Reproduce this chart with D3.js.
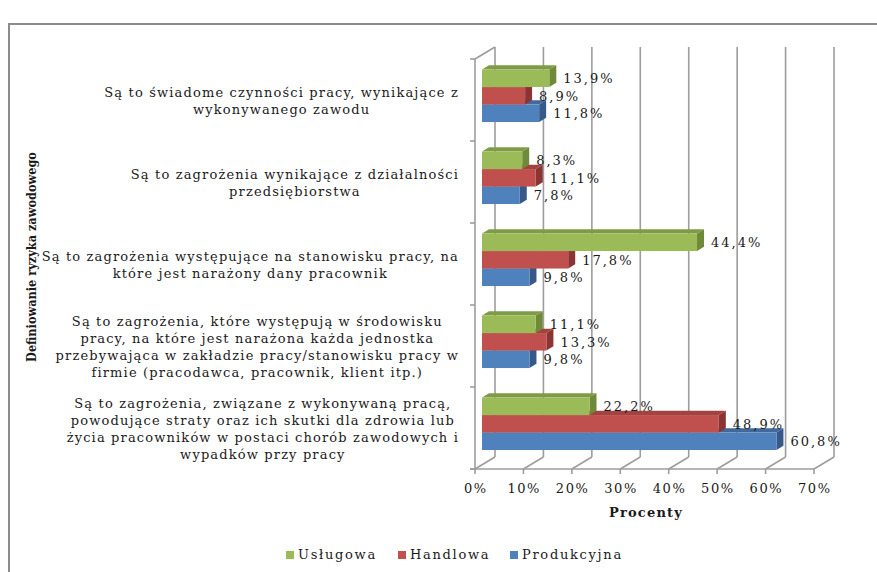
<!DOCTYPE html>
<html>
<head>
<meta charset="utf-8">
<script src="https://cdn.jsdelivr.net/npm/d3@7"></script>
<style>
  html, body { margin: 0; padding: 0; background: #fff; }
  svg { display: block; }
  text { font-family: "DejaVu Serif", serif; fill: #1a1a1a; }
</style>
</head>
<body>
<svg id="chart" width="877" height="572"></svg>
<script>
// Categories (top to bottom) – each entry is a list of wrapped lines
const categories = [
  ["Są to świadome czynności pracy, wynikające z", "wykonywanego zawodu"],
  ["Są to zagrożenia wynikające z działalności", "przedsiębiorstwa"],
  ["Są to zagrożenia występujące na stanowisku pracy, na", "które jest narażony dany pracownik"],
  ["Są to zagrożenia, które występują w środowisku", "pracy, na które jest narażona każda jednostka", "przebywająca w zakładzie pracy/stanowisku pracy w", "firmie (pracodawca, pracownik, klient itp.)"],
  ["Są to zagrożenia, związane z wykonywaną pracą,", "powodujące straty oraz ich skutki dla zdrowia lub", "życia pracowników w postaci chorób zawodowych i", "wypadków przy pracy"]
];
const seriesNames = ["Usługowa", "Handlowa", "Produkcyjna"];
const uslugowa    = [13.9, 8.3, 44.4, 11.1, 22.2];
const handlowa    = [8.9, 11.1, 17.8, 13.3, 48.9];
const produkcyjna = [11.8, 7.8, 9.8, 9.8, 60.8];
const xTicks = [0, 10, 20, 30, 40, 50, 60, 70];

const seriesValues = [uslugowa, handlowa, produkcyjna];
const colors = [
  { front: "#9BBB59", side: "#6F8B3A", top: "#7E9C45" },
  { front: "#C0504D", side: "#8A3533", top: "#A04341" },
  { front: "#4F81BD", side: "#36598A", top: "#42699C" }
];

const svg = d3.select("#chart");
const fmt = v => d3.format(".1f")(v).replace(".", ",") + "%";

// Outer frame
svg.append("path")
  .attr("d", "M9,572 V24 H877")
  .attr("fill", "none").attr("stroke", "#8c8c8c").attr("stroke-width", 2);

// 3D geometry: front plane and depth offset of the back wall
const DX = 20, DY = -12;
const x = d3.scaleLinear().domain([0, 70]).range([475, 814]);
const catIdx = categories.map((c, i) => i);
const y = d3.scaleBand().domain(catIdx).range([59, 469]).paddingInner(0).paddingOuter(0);
const barPad = 0.36;
const inner = d3.scaleBand().domain([0, 1, 2])
  .range([y.bandwidth() * barPad / 2, y.bandwidth() * (1 - barPad / 2)]);

// bar depth (front at 35 % of the depth, back at 70 %)
const f0 = 0.35, f1 = 0.7;
const bx0 = DX * f0, by0 = DY * f0, bx1 = DX * f1, by1 = DY * f1;

const grid = svg.append("g").attr("stroke", "#9d9d9d").attr("stroke-width", 1.6).attr("fill", "none");
const floorY = 469;
const topY = 59;

// back wall gridlines
grid.selectAll(".gl").data(xTicks.slice(1)).join("line")
  .attr("x1", d => x(d) + DX).attr("x2", d => x(d) + DX)
  .attr("y1", topY + DY).attr("y2", floorY + DY);
// back-left edge
grid.append("line").attr("x1", x(0) + DX).attr("x2", x(0) + DX)
  .attr("y1", topY + DY).attr("y2", floorY + DY);
// floor diagonals
grid.selectAll(".fd").data(xTicks).join("line")
  .attr("x1", d => x(d)).attr("y1", floorY)
  .attr("x2", d => x(d) + DX).attr("y2", floorY + DY);
// front floor edge
grid.append("line").attr("x1", x(0) - 5).attr("x2", x(70)).attr("y1", floorY).attr("y2", floorY);
// front ticks
grid.selectAll(".ft").data(xTicks).join("line")
  .attr("x1", d => x(d)).attr("x2", d => x(d)).attr("y1", floorY).attr("y2", floorY + 5);
// left wall
grid.append("line").attr("x1", x(0)).attr("x2", x(0)).attr("y1", topY).attr("y2", floorY);
grid.append("line").attr("x1", x(0)).attr("y1", topY).attr("x2", x(0) + DX).attr("y2", topY + DY);
// category ticks on left wall
const bounds = catIdx.map(i => y(i)).concat([floorY]);
grid.selectAll(".ct").data(bounds).join("line")
  .attr("x1", x(0) - 5).attr("x2", x(0)).attr("y1", d => d).attr("y2", d => d);

// bars
const barsG = svg.append("g");
const flat = [];
catIdx.forEach(ci => seriesValues.forEach((vals, si) => flat.push({ ci, si, v: vals[ci] })));
// draw from bottom to top so upper bars' faces sit above lower ones
flat.sort((a, b) => (b.ci - a.ci) || (b.si - a.si));

flat.forEach(d => {
  const x0 = x(0) + bx0, x1 = x(d.v) + bx0;
  const yt = y(d.ci) + inner(d.si) + by0, h = inner.bandwidth();
  const ddx = bx1 - bx0, ddy = by1 - by0;
  const g = barsG.append("g");
  // top face
  g.append("path")
    .attr("d", `M${x0},${yt} L${x0 + ddx},${yt + ddy} L${x1 + ddx},${yt + ddy} L${x1},${yt} Z`)
    .attr("fill", colors[d.si].top);
  // side face
  g.append("path")
    .attr("d", `M${x1},${yt} L${x1 + ddx},${yt + ddy} L${x1 + ddx},${yt + h + ddy} L${x1},${yt + h} Z`)
    .attr("fill", colors[d.si].side);
  // front face
  g.append("rect").attr("x", x0).attr("y", yt).attr("width", x1 - x0).attr("height", h)
    .attr("fill", colors[d.si].front);
});

// data labels
const labelsG = svg.append("g").attr("font-size", 13).attr("letter-spacing", 2);
flat.forEach(d => {
  labelsG.append("text")
    .attr("x", x(d.v) + bx1 + 7)
    .attr("y", y(d.ci) + inner(d.si) + by0 + inner.bandwidth() / 2 + 1.5)
    .attr("dominant-baseline", "middle")
    .text(fmt(d.v));
});

// x tick labels
svg.append("g").attr("font-size", 13).attr("letter-spacing", 1.6)
  .selectAll("text").data(xTicks).join("text")
  .attr("x", d => x(d) + 0.8).attr("y", 489)
  .attr("text-anchor", "middle").attr("dominant-baseline", "middle")
  .text(d => d + "%");

// axis titles
svg.append("text").attr("x", 646).attr("y", 513)
  .attr("text-anchor", "middle").attr("dominant-baseline", "middle")
  .attr("font-size", 13).attr("font-weight", "bold").attr("letter-spacing", 1.2)
  .text("Procenty");
svg.append("text")
  .attr("transform", "translate(32,257) rotate(-90) scale(0.84,1)")
  .attr("text-anchor", "middle").attr("dominant-baseline", "middle")
  .attr("font-size", 13.5).attr("font-weight", "bold")
  .attr("font-family", "Liberation Serif")
  .text("Definiowanie ryzyka zawodowego");

// category labels: block right-aligned to the axis, lines centred in the block
const catG = svg.append("g").attr("font-size", 13).attr("letter-spacing", 1.15);
const lineH = 17;
catIdx.forEach(ci => {
  const lines = categories[ci];
  const g = catG.append("g");
  const texts = lines.map(l => g.append("text").attr("text-anchor", "middle").attr("dominant-baseline", "middle").text(l));
  const w = d3.max(texts, t => t.node().getComputedTextLength());
  const cx = 459 - w / 2;
  const cy = y(ci) + y.bandwidth() / 2 + 2;
  texts.forEach((t, li) => t.attr("x", cx).attr("y", cy + (li - (lines.length - 1) / 2) * lineH));
});

// legend
const legend = svg.append("g").attr("font-size", 13).attr("letter-spacing", 1.7);
const legX = [286, 398, 510];
seriesNames.forEach((n, i) => {
  legend.append("rect").attr("x", legX[i]).attr("y", 551).attr("width", 8).attr("height", 8)
    .attr("fill", colors[i].front);
  legend.append("text").attr("x", legX[i] + 12).attr("y", 555)
    .attr("dominant-baseline", "middle").text(n);
});
</script>
</body>
</html>
